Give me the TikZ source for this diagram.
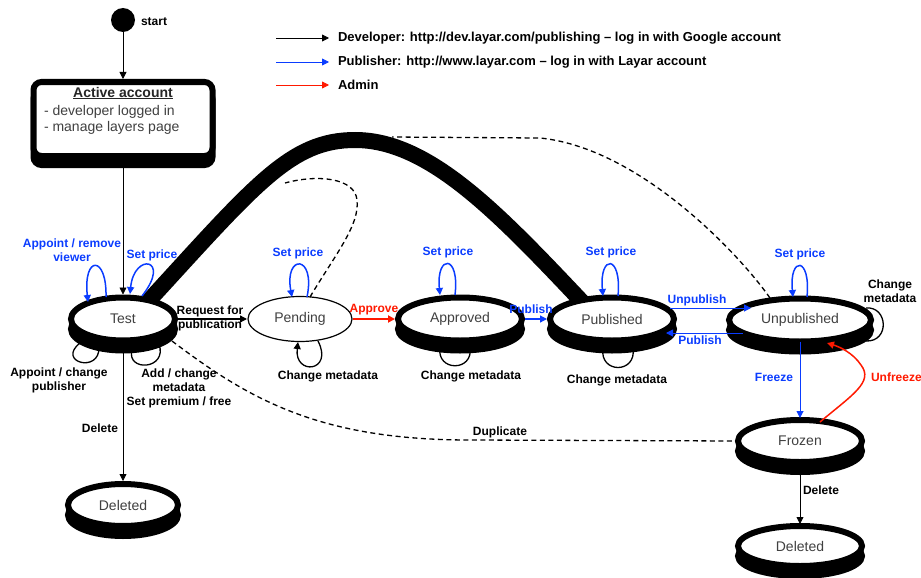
\documentclass[tikz,border=0pt]{standalone}
\usepackage{fontspec}
\setmainfont{Liberation Sans}
\usetikzlibrary{arrows.meta,shapes.geometric,calc}
\definecolor{pblue}{RGB}{10,60,255}
\definecolor{ared}{RGB}{255,25,0}
\definecolor{ntext}{RGB}{64,64,64}
\pgfdeclarelayer{bg}
\pgfsetlayers{bg,main}
\begin{document}
\begin{tikzpicture}[x=1pt,y=-1pt,
  every node/.style={inner sep=0pt,outer sep=0pt},
  st/.style={ellipse,draw=black,line width=6pt,fill=white,minimum width=124pt,minimum height=43pt,font=\fontsize{14}{16}\selectfont,text=ntext,preaction={draw=black,fill=black,line width=6pt,transform canvas={yshift=-10pt}}},
  lbl/.style={font=\bfseries\fontsize{12}{14}\selectfont,align=center},
  tip/.style={-{Triangle[length=7pt,width=7pt]}},
  dev/.style={tip,draw=black,line width=0.8pt},
  pub/.style={tip,draw=pblue,line width=1pt},
  adm/.style={tip,draw=ared,line width=1.5pt},
  bloop/.style={tip,draw=pblue,line width=1.5pt},
  kloop/.style={tip,draw=black,line width=1.3pt},
  hloop/.style={draw=black,line width=1.3pt},
  dsh/.style={draw=black,line width=1.3pt,dash pattern=on 5pt off 3.5pt},
]
\useasboundingbox (0,0) rectangle (921,578);

% start and account box
\node[circle,fill=black,minimum size=24pt] (start) at (123,20) {};
\node[lbl,anchor=west] (startlbl) at (141,22) {start};
\node[rectangle,rounded corners=8pt,draw=black,line width=6pt,fill=white,minimum width=179pt,minimum height=74pt,preaction={draw=black,fill=black,line width=6pt,transform canvas={yshift=-9pt}}] (active) at (123,119) {};
\node[font=\bfseries\fontsize{14}{16}\selectfont,text=black!85] (acttitle) at (123,93) {\underline{Active account}};
\node[anchor=base west,font=\fontsize{14}{16}\selectfont,text=ntext] (actl1) at (44,115) {- developer logged in};
\node[anchor=base west,font=\fontsize{14}{16}\selectfont,text=ntext] (actl2) at (44,131) {- manage layers page};

% states
\node[st,minimum width=104pt] (test) at (123,319) {Test};
\node[ellipse,draw=black,line width=1.2pt,fill=white,minimum width=104pt,minimum height=45pt,font=\fontsize{14}{16}\selectfont,text=ntext] (pending) at (300,319) {Pending};
\node[st] (approved) at (460,319) {Approved};
\node[st] (published) at (612,319) {Published};
\node[st,minimum width=142pt] (unpub) at (800,320) {Unpublished};
\node[st,minimum height=42pt] (frozen) at (800,441) {Frozen};
\node[st,minimum width=110pt,minimum height=42pt] (del1) at (123,505) {Deleted};
\node[st,minimum height=40pt] (del2) at (800,546) {Deleted};

% legend
\coordinate (lg1s) at (276,38); \coordinate (lg1e) at (329,38);
\coordinate (lg2s) at (276,62); \coordinate (lg2e) at (329,62);
\coordinate (lg3s) at (276,85); \coordinate (lg3e) at (329,85);
\draw[dev] (lg1s) -- (lg1e);
\draw[pub,line width=0.8pt] (lg2s) -- (lg2e);
\draw[adm,line width=0.8pt] (lg3s) -- (lg3e);
\node[lbl,font=\bfseries\fontsize{13}{15}\selectfont,anchor=west] (lg1t) at (338,38) {Developer: http://dev.layar.com/publishing – log in with Google account};
\node[lbl,font=\bfseries\fontsize{13}{15}\selectfont,anchor=west] (lg2t) at (338,62) {Publisher: http://www.layar.com – log in with Layar account};
\node[lbl,font=\bfseries\fontsize{13}{15}\selectfont,anchor=west] (lg3t) at (338,85) {Admin};

% background: thick curve and hidden loops
\begin{pgfonlayer}{bg}
\draw[line width=16pt] ($(test)+(20,-12)$) .. controls (255,185) and (290,140) .. (355,140) .. controls (430,140) and (500,215) .. ($(published)+(-25,-12)$);
\draw[hloop] ($(test)+(-43,24)$) .. controls (56,362) and (100,374) .. ($(test)+(-24,28)$);
\draw[hloop] ($(test)+(9,31)$) .. controls (126,372) and (168,370) .. ($(test)+(36,25)$);
\draw[hloop] ($(approved)+(-20,28)$) .. controls (436,372) and (474,372) .. ($(approved)+(10,28)$);
\draw[hloop] ($(published)+(-9,29)$) .. controls (599,374) and (637,374) .. ($(published)+(21,29)$);
\draw[hloop] ($(unpub)+(66,-12)$) .. controls (888,306) and (890,342) .. ($(unpub)+(66,21)$);
\end{pgfonlayer}

% main transitions
\draw[dev,shorten >=3pt] (start) -- (active);
\draw[dev,shorten >=3pt] (active) -- (test);
\draw[dev,shorten >=3pt] (test) -- (del1);
\node[lbl] (ldel1) at (100,428) {Delete};

\draw[dev,line width=1.3pt,shorten <=3pt,shorten >=1pt] (test) -- (pending);
\node[lbl] (lreq) at (210,318) {Request for\\publication};

\draw[adm,line width=2pt,shorten <=1pt,shorten >=3pt] (pending) -- (approved);
\node[lbl,text=ared] (lapp) at (374,310) {Approve};

\draw[pub,line width=1.2pt,shorten <=3pt,shorten >=3pt] (approved) -- (published);
\node[lbl,text=pblue] (lpub1) at (531,309) {Publish};

\draw[pub] ($(published)+(58,-11)$) -- ($(unpub)+(-49,-12)$);
\node[lbl,text=pblue] (lunp) at (697,300) {Unpublish};
\draw[pub] ($(unpub)+(-57,13)$) -- ($(published)+(54,14)$);
\node[lbl,text=pblue] (lpub2) at (700,340) {Publish};

\draw[pub,shorten >=2pt] (unpub) -- (frozen);
\node[lbl,text=pblue] (lfrz) at (774,377) {Freeze};

\draw[adm] ($(frozen)+(20,-19)$) .. controls (852,395) and (874,382) .. (861,365) .. controls (853,353) and (840,347) .. ($(unpub)+(27,23)$);
\node[lbl,text=ared,anchor=west] (lunf) at (871,377) {Unfreeze};

\draw[dev,shorten >=2pt] (frozen) -- (del2);
\node[lbl] (ldel2) at (821,490) {Delete};

% dashed transitions
\coordinate (j1) at (285,183);
\coordinate (j2) at (392,137);
\draw[dsh] ($(pending)+(10,-22)$) .. controls (335,255) and (360,225) .. (357,200) .. controls (355,178) and (318,174) .. (j1);
\draw[dsh] ($(unpub)+(-30,-22)$) .. controls (740,255) and (640,148) .. (540,138) -- (j2);
\draw[dsh] ($(test)+(49,22)$) .. controls (250,400) and (320,440) .. (470,440) -- (frozen.west);
\node[lbl] (ldup) at (500,432) {Duplicate};

% self loops
\draw[bloop] ($(test)+(-17,-22)$) .. controls (107,255) and (83,255) .. ($(test)+(-35,-17)$);
\node[lbl,text=pblue] (lappv) at (72,250) {Appoint / remove\\viewer};
\draw[bloop] ($(test)+(19,-23)$) .. controls (172,258) and (134,252) .. ($(test)+(7,-25)$);
\node[lbl,text=pblue] (lsp1) at (152,255) {Set price};
\node[lbl] (lapc) at (59,380) {Appoint / change\\publisher};
\node[lbl] (lmeta) at (179,388) {Add / change\\metadata\\Set premium / free};

\draw[bloop] ($(pending)+(7,-22)$) .. controls (316,254) and (284,254) .. ($(pending)+(-8,-22)$);
\node[lbl,text=pblue] (lsp2) at (298,253) {Set price};
\draw[kloop] ($(pending)+(18,22)$) .. controls (334,372) and (294,376) .. ($(pending)+(-2,23)$);
\node[lbl] (lcm1) at (328,376) {Change metadata};

\draw[bloop] ($(approved)+(-5,-24)$) .. controls (460,254) and (436,254) .. ($(approved)+(-20,-24)$);
\node[lbl,text=pblue] (lsp3) at (448,252) {Set price};
\node[lbl] (lcm2) at (471,376) {Change metadata};

\draw[bloop] ($(published)+(6,-23)$) .. controls (622,254) and (599,254) .. ($(published)+(-9,-23)$);
\node[lbl,text=pblue] (lsp4) at (611,252) {Set price};
\node[lbl] (lcm3) at (617,380) {Change metadata};

\draw[bloop] ($(unpub)+(7,-23)$) .. controls (811,256) and (789,256) .. ($(unpub)+(-7,-23)$);
\node[lbl,text=pblue] (lsp5) at (800,254) {Set price};
\node[lbl] (lcm4) at (890,291) {Change\\metadata};
\end{tikzpicture}
\end{document}
